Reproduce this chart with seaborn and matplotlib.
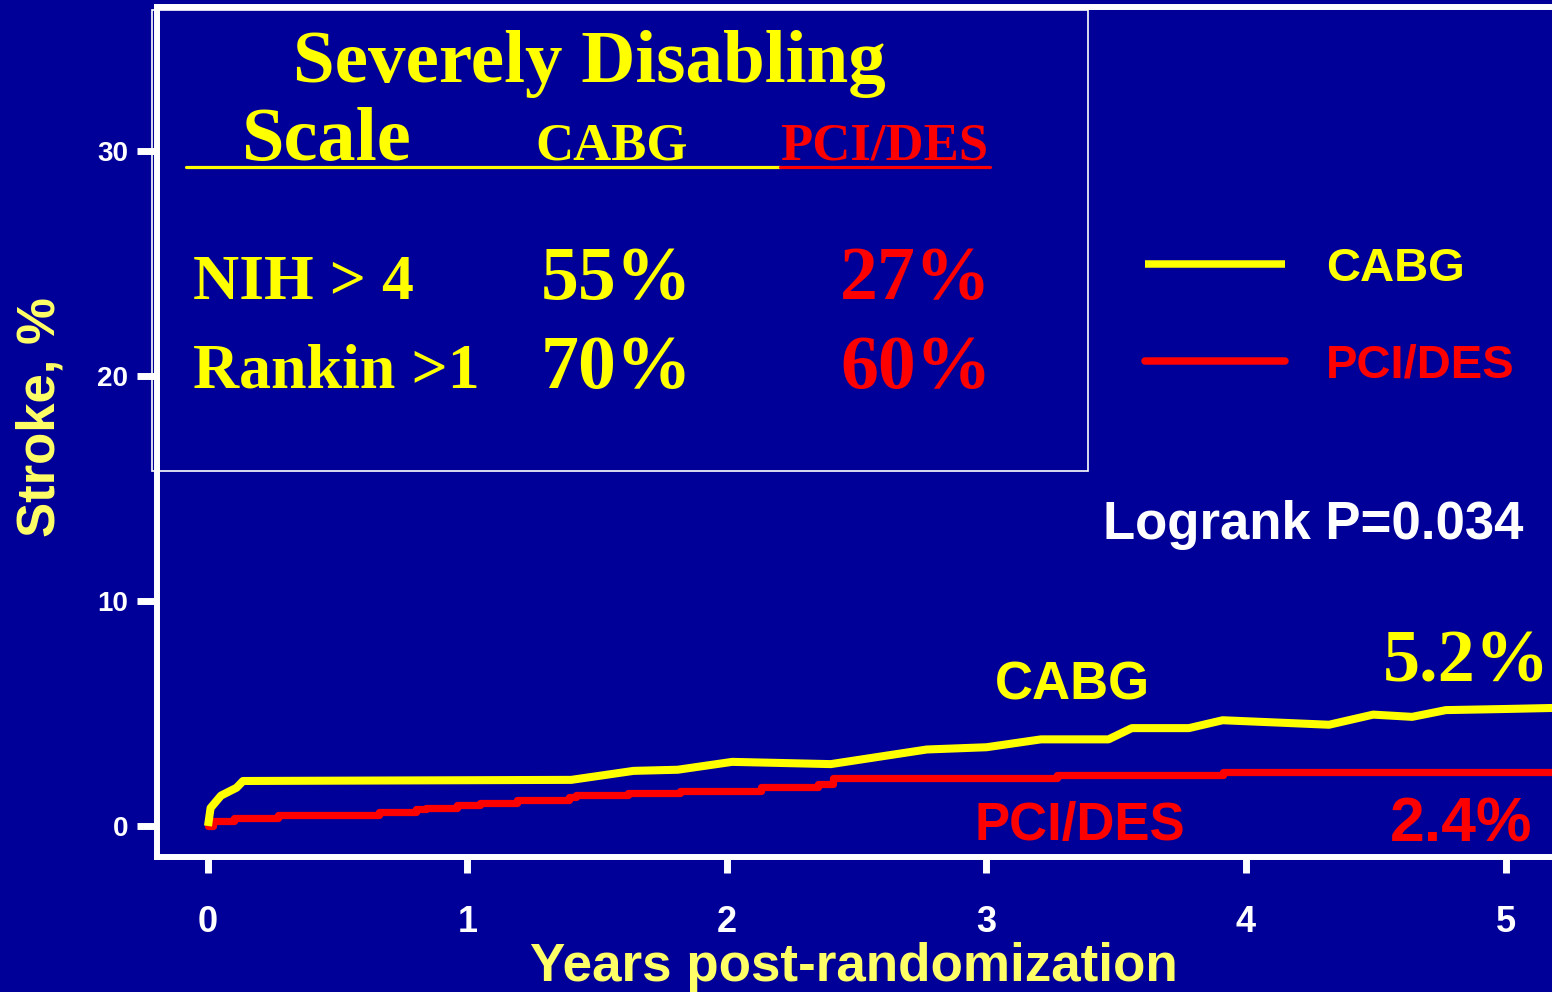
import matplotlib
matplotlib.use("Agg")
import matplotlib.pyplot as plt
from matplotlib.lines import Line2D
from matplotlib.patches import Rectangle
import seaborn as sns
import pandas as pd

# Kaplan-Meier style cumulative stroke incidence (%), by years post-randomization
cabg_years = [0.0, 0.01, 0.05, 0.11, 0.135, 1.40, 1.64, 1.81, 2.02, 2.40, 2.77,
              3.00, 3.21, 3.47, 3.56, 3.78, 3.91, 4.32, 4.49, 4.64, 4.77, 5.00, 5.20]
cabg_stroke = [0.0, 0.8, 1.35, 1.7, 2.0, 2.05, 2.45, 2.5, 2.85, 2.75, 3.4,
               3.5, 3.85, 3.85, 4.35, 4.35, 4.7, 4.5, 4.95, 4.85, 5.15, 5.2, 5.25]

pci_years = [0.0, 0.02, 0.10, 0.27, 0.66, 0.80, 0.84, 0.96, 1.05, 1.19, 1.39, 1.42,
             1.62, 1.82, 2.13, 2.35, 2.41, 3.27, 3.91, 5.20]
pci_stroke = [0.0, 0.2, 0.35, 0.5, 0.6, 0.75, 0.8, 0.93, 1.02, 1.15, 1.28, 1.38,
              1.47, 1.56, 1.73, 1.87, 2.13, 2.27, 2.4, 2.4]

x_ticks = [0, 1, 2, 3, 4, 5]
y_ticks = [0, 10, 20, 30]

groups = ["CABG", "PCI/DES"]
final_rates = ["5.2%", "2.4%"]
logrank_text = "Logrank P=0.034"

table_title = ["Severely Disabling", "Scale"]
table_rows = ["NIH > 4", "Rankin >1"]
table_cabg = ["55%", "70%"]
table_pci = ["27%", "60%"]

BG = "#000099"
YELLOW = "#ffff00"
LABEL_YELLOW = "#ffff66"
RED = "#ff0000"
WHITE = "#ffffff"
SANS = "Liberation Sans"
SERIF = "Liberation Serif"

sns.set_style("white", {"axes.facecolor": BG, "figure.facecolor": BG})
plt.rcParams["font.family"] = [SANS, "DejaVu Sans"]

W, H = 1552, 992
fig = plt.figure(figsize=(W / 100, H / 100), dpi=100, facecolor=BG)


def fx(px):
    return px / W


def fy(py):
    return 1 - py / H


ax = fig.add_axes([fx(157), fy(857), (1560 - 157) / W, (857 - 6.5) / H])
ax.set_facecolor(BG)

cabg_df = pd.DataFrame({"years": cabg_years, "stroke": cabg_stroke})
pci_df = pd.DataFrame({"years": pci_years, "stroke": pci_stroke})

sns.lineplot(data=cabg_df, x="years", y="stroke", ax=ax, color=YELLOW,
             linewidth=5.8, estimator=None, sort=False, label=groups[0],
             solid_joinstyle="round", solid_capstyle="butt", zorder=3)
sns.lineplot(data=pci_df, x="years", y="stroke", ax=ax, color=RED,
             linewidth=5.2, estimator=None, sort=False, label=groups[1],
             drawstyle="steps-post", zorder=2)

ax.set_xlim(-0.1965, 5.210)
ax.set_ylim(-1.378, 36.42)
ax.set_xticks(x_ticks)
ax.set_yticks(y_ticks)
ax.set_xticklabels([str(t) for t in x_ticks], fontweight="bold", color=WHITE, fontsize=26)
ax.set_yticklabels([str(t) for t in y_ticks], fontweight="bold", color=WHITE, fontsize=20)
ax.tick_params(axis="x", direction="out", length=11.5, width=5, color=WHITE, pad=23,
               bottom=True)
ax.tick_params(axis="y", direction="out", length=14.4, width=5, color=WHITE, pad=6.5,
               left=True)
ax.grid(False)

for side in ["left", "top", "bottom"]:
    ax.spines[side].set_visible(True)
    ax.spines[side].set_color(WHITE)
    ax.spines[side].set_linewidth(4.3)
ax.spines["right"].set_visible(False)

ax.set_xlabel("Years post-randomization", fontsize=38.2, fontweight="bold",
              color=LABEL_YELLOW)
ax.xaxis.set_label_coords(0.497, -0.1005)
ax.set_ylabel("Stroke, %", fontsize=38, fontweight="bold", color=LABEL_YELLOW)
ax.yaxis.set_label_coords(-0.065, 0.517)

leg = ax.legend(loc="center left", bbox_to_anchor=(fx(1145), fy(317)),
                bbox_transform=fig.transFigure, frameon=False,
                prop={"family": SANS, "weight": "bold", "size": 34},
                labelcolor="linecolor", handlelength=2.96, handletextpad=0.865,
                labelspacing=1.11, borderpad=0, borderaxespad=0)
for line in leg.get_lines():
    line.set_linewidth(5.4)

# curve annotations
fig.text(fx(995), fy(700), groups[0], color=YELLOW, fontsize=38, fontweight="bold",
         family=SANS, va="baseline", ha="left")
fig.text(fx(975), fy(840), groups[1], color=RED, fontsize=38, fontweight="bold",
         family=SANS, va="baseline", ha="left")
fig.text(fx(1383), fy(682), final_rates[0], color=YELLOW, fontsize=53.5, fontweight="bold",
         family=SERIF, va="baseline", ha="left")
fig.text(fx(1390), fy(841), final_rates[1], color=RED, fontsize=45, fontweight="bold",
         family=SANS, va="baseline", ha="left")
fig.text(fx(1103), fy(539), logrank_text, color=WHITE, fontsize=38, fontweight="bold",
         family=SANS, va="baseline", ha="left")

# inset table of disabling-stroke rates
fig.patches.append(Rectangle((fx(152), fy(471)), fx(1088 - 152), (471 - 10) / H,
                             transform=fig.transFigure, fill=False,
                             edgecolor=WHITE, linewidth=1.2, zorder=5))

serif_kw = dict(family=SERIF, fontweight="bold", va="baseline", ha="left")
fig.text(fx(293), fy(82), table_title[0], color=YELLOW, fontsize=54, **serif_kw)
fig.text(fx(242), fy(160), table_title[1], color=YELLOW, fontsize=55, **serif_kw)
fig.text(fx(535), fy(160), groups[0], color=YELLOW, fontsize=38, **serif_kw)
fig.text(fx(780), fy(160), groups[1], color=RED, fontsize=38, **serif_kw)
fig.lines.append(Line2D([fx(186), fx(780)], [fy(167), fy(167)], transform=fig.transFigure,
                        color=YELLOW, linewidth=2.3))
fig.lines.append(Line2D([fx(780), fx(990)], [fy(167), fy(167)], transform=fig.transFigure,
                        color=RED, linewidth=2.3))

row_baselines = [299, 388]
for label, c_val, p_val, base in zip(table_rows, table_cabg, table_pci, row_baselines):
    fig.text(fx(193), fy(base), label, color=YELLOW, fontsize=46, **serif_kw)
    fig.text(fx(541), fy(base), c_val, color=YELLOW, fontsize=54.5, **serif_kw)
    fig.text(fx(840), fy(base), p_val, color=RED, fontsize=54.5, **serif_kw)

fig.savefig("out.png", dpi=100, facecolor=BG)
